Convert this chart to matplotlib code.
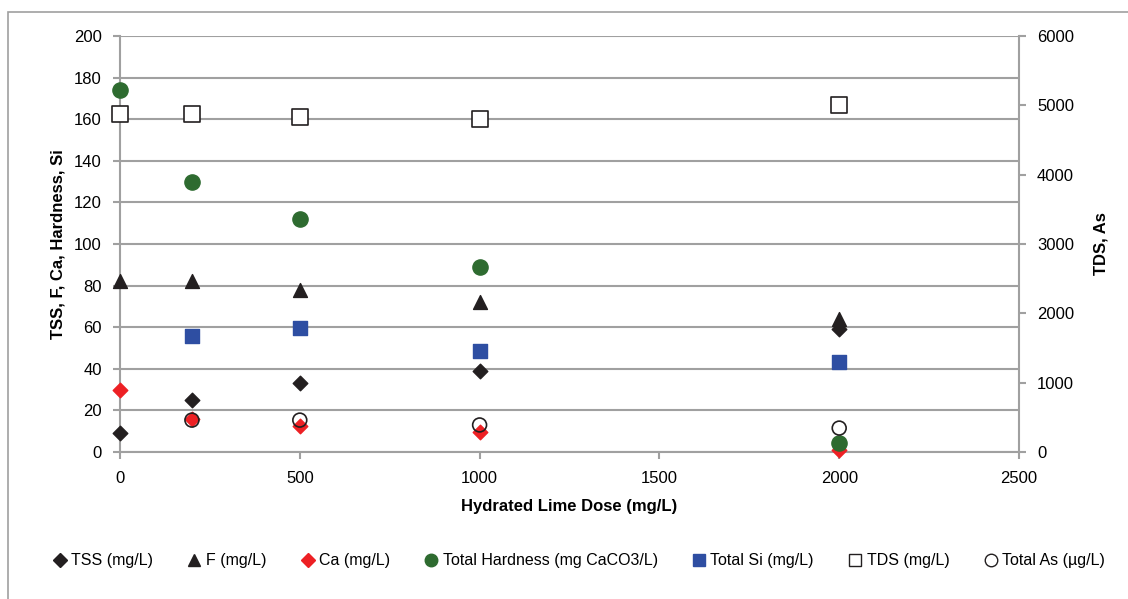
import matplotlib.pyplot as plt
from matplotlib.lines import Line2D
from matplotlib.patches import Rectangle

plt.rcParams['font.family'] = ['Liberation Sans', 'DejaVu Sans']

# data
dose = [0, 200, 500, 1000, 2000]
tss = [9, 25, 33, 39, 59]
fluoride = [82, 82, 78, 72, 64]
ca = [30, 16, 12.5, 9.6, 1]
hardness = [174, 130, 112, 89, 4.3]
si_dose = [200, 500, 1000, 2000]
si = [55.8, 59.6, 48.6, 43.3]
tds = [4875, 4875, 4830, 4800, 5000]
as_dose = [200, 500, 1000, 2000]
arsenic = [460, 460, 390, 345]

grid_c = '#a0a0a0'
fs = 12

fig = plt.figure(figsize=(11.28, 5.99), dpi=100)
fig.patches.append(Rectangle((8 / 1128, -0.1), 1.2, 1.1 - 12 / 599, transform=fig.transFigure,
                             fill=False, edgecolor=grid_c, linewidth=1.2))
ax = fig.add_axes([120 / 1128, 1 - 452 / 599, 899 / 1128, 416 / 599])
ax2 = ax.twinx()

kw = dict(zorder=3, clip_on=False)
ax.scatter(dose, tss, marker='D', s=55, color='#231f20', **kw)
ax.scatter(dose, fluoride, marker='^', s=100, color='#231f20', **kw)
ax.scatter(dose, ca, marker='D', s=55, color='#ed2024', **kw)
ax.scatter(dose, hardness, marker='o', s=120, color='#2e6b30', **kw)
ax.scatter(si_dose, si, marker='s', s=110, color='#2e4ea2', **kw)
ax2.scatter(dose, tds, marker='s', s=120, facecolor='white', edgecolor='#231f20', linewidth=1.2, **kw)
ax2.scatter(as_dose, arsenic, marker='o', s=100, facecolor='none', edgecolor='#231f20', linewidth=1.2,
            zorder=4, clip_on=False)

ax.set_xlim(0, 2500)
ax.set_ylim(0, 200)
ax2.set_ylim(0, 6000)
ax.set_xticks(range(0, 2501, 500))
ax.set_yticks(range(0, 201, 20))
ax2.set_yticks(range(0, 6001, 1000))
ax.grid(axis='y', color=grid_c, linewidth=1.5)
ax.set_axisbelow(True)

for a in (ax, ax2):
    for s in a.spines.values():
        s.set_visible(False)
    a.tick_params(colors=grid_c, labelcolor='black', labelsize=fs, length=5, width=1.5)
for a, side in ((ax, 'left'), (ax2, 'right'), (ax, 'bottom')):
    a.spines[side].set_visible(True)
    a.spines[side].set_color(grid_c)
    a.spines[side].set_linewidth(1.5)
ax.tick_params(axis='x', pad=9)
ax.tick_params(axis='y', pad=8)
ax2.tick_params(axis='y', pad=8)

ax.set_xlabel('Hydrated Lime Dose (mg/L)', fontsize=fs, fontweight='bold', labelpad=9)
ax.set_ylabel('TSS, F, Ca, Hardness, Si', fontsize=fs, fontweight='bold', labelpad=6)
ax2.set_ylabel('TDS, As', fontsize=fs, fontweight='bold', labelpad=14)

handles = [
    Line2D([], [], ls='', marker='D', ms=7, color='#231f20', label='TSS (mg/L)'),
    Line2D([], [], ls='', marker='^', ms=9, color='#231f20', label='F (mg/L)'),
    Line2D([], [], ls='', marker='D', ms=7, color='#ed2024', label='Ca (mg/L)'),
    Line2D([], [], ls='', marker='o', ms=9, color='#2e6b30', label='Total Hardness (mg CaCO3/L)'),
    Line2D([], [], ls='', marker='s', ms=9, color='#2e4ea2', label='Total Si (mg/L)'),
    Line2D([], [], ls='', marker='s', ms=9, mfc='white', mec='#231f20', label='TDS (mg/L)'),
    Line2D([], [], ls='', marker='o', ms=9, mfc='white', mec='#231f20', label='Total As (\u00b5g/L)'),
]
fig.legend(handles=handles, loc='center', bbox_to_anchor=(0.512, 1 - 561 / 599), ncol=7,
           frameon=False, fontsize=11.5, handletextpad=0.1, columnspacing=2.0, handlelength=1.2)

fig.savefig('out.png', dpi=100)
